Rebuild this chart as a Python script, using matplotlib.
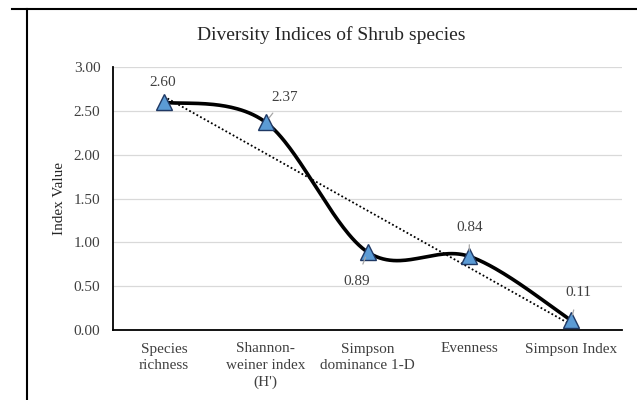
import numpy as np
import matplotlib.pyplot as plt
from matplotlib.lines import Line2D

categories = ["Species\nrichness", "Shannon-\nweiner index\n(H')", "Simpson\ndominance 1-D",
              "Evenness", "Simpson Index"]
values = [2.60, 2.37, 0.89, 0.84, 0.11]
yticks = [0.0, 0.5, 1.0, 1.5, 2.0, 2.5, 3.0]
# label offsets in points (dx, dy) and whether a leader line is drawn
label_offsets = [(-1, 14), (14, 18), (-8, -21), (0, 21), (5, 20)]
label_leaders = [False, True, True, True, True]

plt.rcParams['font.family'] = ['Liberation Serif', 'DejaVu Serif']

fig = plt.figure(figsize=(6.37, 4.0), dpi=100)
ax = fig.add_axes([113 / 637, 70 / 400, 509 / 637, 263 / 400])

x = np.arange(len(values), dtype=float)
y = np.array(values)


def smooth_curve(px, py, n=60):
    # Catmull-Rom style cubic Bezier segments through the points
    pts = np.column_stack([px, py])
    ext = np.vstack([pts[0], pts, pts[-1]])
    out = []
    for i in range(len(pts) - 1):
        p0, p1, p2, p3 = ext[i], ext[i + 1], ext[i + 2], ext[i + 3]
        c1 = p1 + (p2 - p0) / 6.0
        c2 = p2 - (p3 - p1) / 6.0
        t = np.linspace(0, 1, n)[:, None]
        seg = ((1 - t) ** 3) * p1 + 3 * ((1 - t) ** 2) * t * c1 + 3 * (1 - t) * t ** 2 * c2 + t ** 3 * p2
        out.append(seg if i == 0 else seg[1:])
    out = np.vstack(out)
    return out[:, 0], out[:, 1]


sx, sy = smooth_curve(x, y)
ax.plot(sx, sy, color='black', lw=2.6, zorder=3, solid_capstyle='round')

# linear trendline
k, b = np.polyfit(x, y, 1)
ax.plot(x, k * x + b, color='black', lw=1.3, ls=(0, (1, 1.3)), zorder=2)

ax.plot(x, y, ls='none', marker='^', ms=12, mfc='#5b9bd5', mec='#1f3864', mew=1.0, zorder=4)

for xi, yi, (dx, dy), lead in zip(x, y, label_offsets, label_leaders):
    ax.annotate(f"{yi:.2f}", xy=(xi, yi), xytext=(dx, dy), textcoords='offset points',
                ha='center', va='center', fontsize=11, color='#404040',
                arrowprops=dict(arrowstyle='-', color='#a6a6a6', lw=0.9, shrinkA=6, shrinkB=4) if lead else None,
                zorder=5)

ax.set_xlim(-0.5, len(values) - 0.5)
ax.set_ylim(0, 3.0)
ax.set_yticks(yticks)
ax.set_yticklabels([f"{t:.2f}" for t in yticks], fontsize=11, color='#404040')
ax.set_xticks(x)
ax.set_xticklabels(categories, fontsize=11, color='#404040', linespacing=1.35)
ax.tick_params(axis='y', length=0, pad=9)
ax.tick_params(axis='x', length=0, pad=9)
ax.grid(axis='y', color='#d9d9d9', lw=0.9)
ax.set_axisbelow(True)
for s in ['top', 'right']:
    ax.spines[s].set_visible(False)
for s in ['left', 'bottom']:
    ax.spines[s].set_color('black')
    ax.spines[s].set_linewidth(1.3)

ax.set_ylabel("Index Value", fontsize=11, color='#262626', labelpad=6)
fig.text(0.52, 1 - 35 / 400, "Diversity Indices of Shrub species", ha='center', va='center',
         fontsize=14, color='#262626')

# outer frame
fig.add_artist(Line2D([12 / 637, 1.0], [1 - 9 / 400, 1 - 9 / 400], color='black', lw=1.5))
fig.add_artist(Line2D([27 / 637, 27 / 637], [0, 1 - 9 / 400], color='black', lw=1.5))

fig.savefig("out.png", dpi=100)
